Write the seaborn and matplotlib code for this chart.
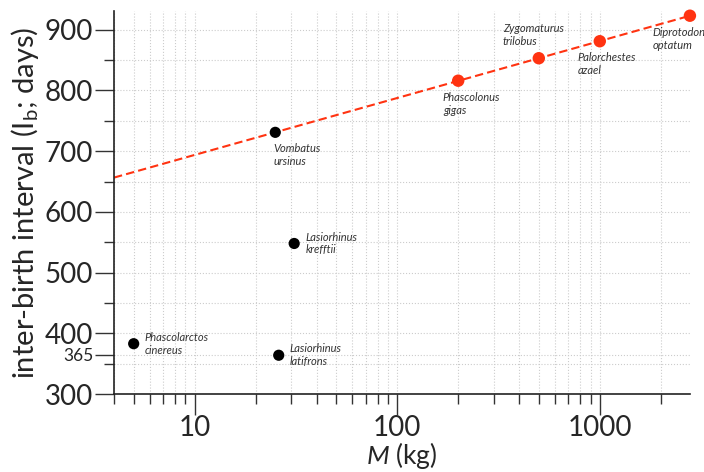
import numpy as np
import pandas as pd
import seaborn as sns
import matplotlib.pyplot as plt
from matplotlib.ticker import FixedLocator, NullFormatter

# datos
especies = ['Phascolarctos\ncinereus', 'Lasiorhinus\nlatifrons', 'Lasiorhinus\nkrefftii',
            'Vombatus\nursinus', 'Phascolonus\ngigas', 'Zygomaturus\ntrilobus',
            'Palorchestes\nazael', 'Diprotodon\noptatum']
masa = [5, 26, 31, 25, 200, 500, 1000, 2786]          # kg
intervalo = [383, 364, 548, 731, 816, 853, 881, 923]  # dias
grupo = ['extant', 'extant', 'extant', 'extant', 'extinct', 'extinct', 'extinct', 'extinct']

# desplazamiento de etiquetas (puntos) y alineacion
offsets = [(8, 0), (8, 0), (8, 0), (-1, -8), (-11, -8), (-26, 8), (-16, -8), (-27, -8)]
aligns = ['center', 'center', 'center', 'top', 'top', 'bottom', 'top', 'top']

df = pd.DataFrame({'especie': especies, 'masa': masa, 'ibi': intervalo, 'grupo': grupo})

sns.set_theme(style='white')
plt.rcParams['font.family'] = ['Lato', 'DejaVu Sans']
plt.rcParams['mathtext.fontset'] = 'custom'
plt.rcParams['mathtext.rm'] = 'Lato'
plt.rcParams['mathtext.it'] = 'Lato:italic'

fig = plt.figure(figsize=(7.04, 4.72), dpi=100)
ax = fig.add_axes([0.162, 0.165, 0.818, 0.812])

rojo = '#ff3311'

# ajuste logaritmico (Vombatus + megafauna)
sel = df[(df['grupo'] == 'extinct') | (df['especie'] == 'Vombatus\nursinus')]
pend, inter = np.polyfit(np.log10(sel['masa']), sel['ibi'], 1)
xs = np.logspace(np.log10(4), np.log10(2786), 50)
ax.plot(xs, inter + pend * np.log10(xs), ls=(0, (4, 2)), color=rojo, lw=1.5, zorder=2)

sns.scatterplot(data=df[df['grupo'] == 'extant'], x='masa', y='ibi', color='black',
                s=65, edgecolor='none', ax=ax, zorder=3, clip_on=False)
sns.scatterplot(data=df[df['grupo'] == 'extinct'], x='masa', y='ibi', color=rojo,
                s=80, edgecolor='none', ax=ax, zorder=3, clip_on=False)

for i in range(len(df)):
    ax.annotate(especies[i], (masa[i], intervalo[i]), xytext=offsets[i],
                textcoords='offset points', ha='left', va=aligns[i],
                fontsize=8, style='italic', color='#333333', linespacing=1.2)

ax.set_xscale('log')
ax.set_xlim(4, 2786)
ax.set_ylim(300, 931)

ax.set_xticks([10, 100, 1000])
ax.set_xticklabels(['10', '100', '1000'])
ax.xaxis.set_minor_locator(FixedLocator([k * 10 ** d for d in range(0, 4) for k in range(2, 10)]))
ax.xaxis.set_minor_formatter(NullFormatter())

ax.set_yticks([300, 365, 400, 500, 600, 700, 800, 900])
ax.set_yticklabels(['300', '365', '400', '500', '600', '700', '800', '900'])
ax.set_yticks([350, 450, 550, 650, 750, 850], minor=True)
for lab in ax.get_yticklabels():
    if lab.get_text() == '365':
        lab.set_fontsize(12.5)
    else:
        lab.set_fontsize(20)
for lab in ax.get_xticklabels():
    lab.set_fontsize(20)

ax.tick_params(axis='y', which='major', direction='out', length=14, width=1, color='#333333', pad=1,
               left=True)
ax.tick_params(axis='x', which='major', direction='out', length=15, width=1, color='#333333', pad=0,
               bottom=True)
ax.tick_params(which='minor', direction='out', length=7, width=1, color='#333333',
               left=True, bottom=True)
ax.grid(True, which='both', ls=':', color='#cccccc', lw=0.8)

for s in ['top', 'right']:
    ax.spines[s].set_visible(False)
for s in ['left', 'bottom']:
    ax.spines[s].set_color('#222222')
    ax.spines[s].set_linewidth(1.2)

ax.set_xlabel('$M$ (kg)', fontsize=19, labelpad=-0.5)
ax.set_ylabel('inter-birth interval (I$_\\mathrm{b}$; days)', fontsize=21, labelpad=3)

fig.savefig('out.png', dpi=100)
